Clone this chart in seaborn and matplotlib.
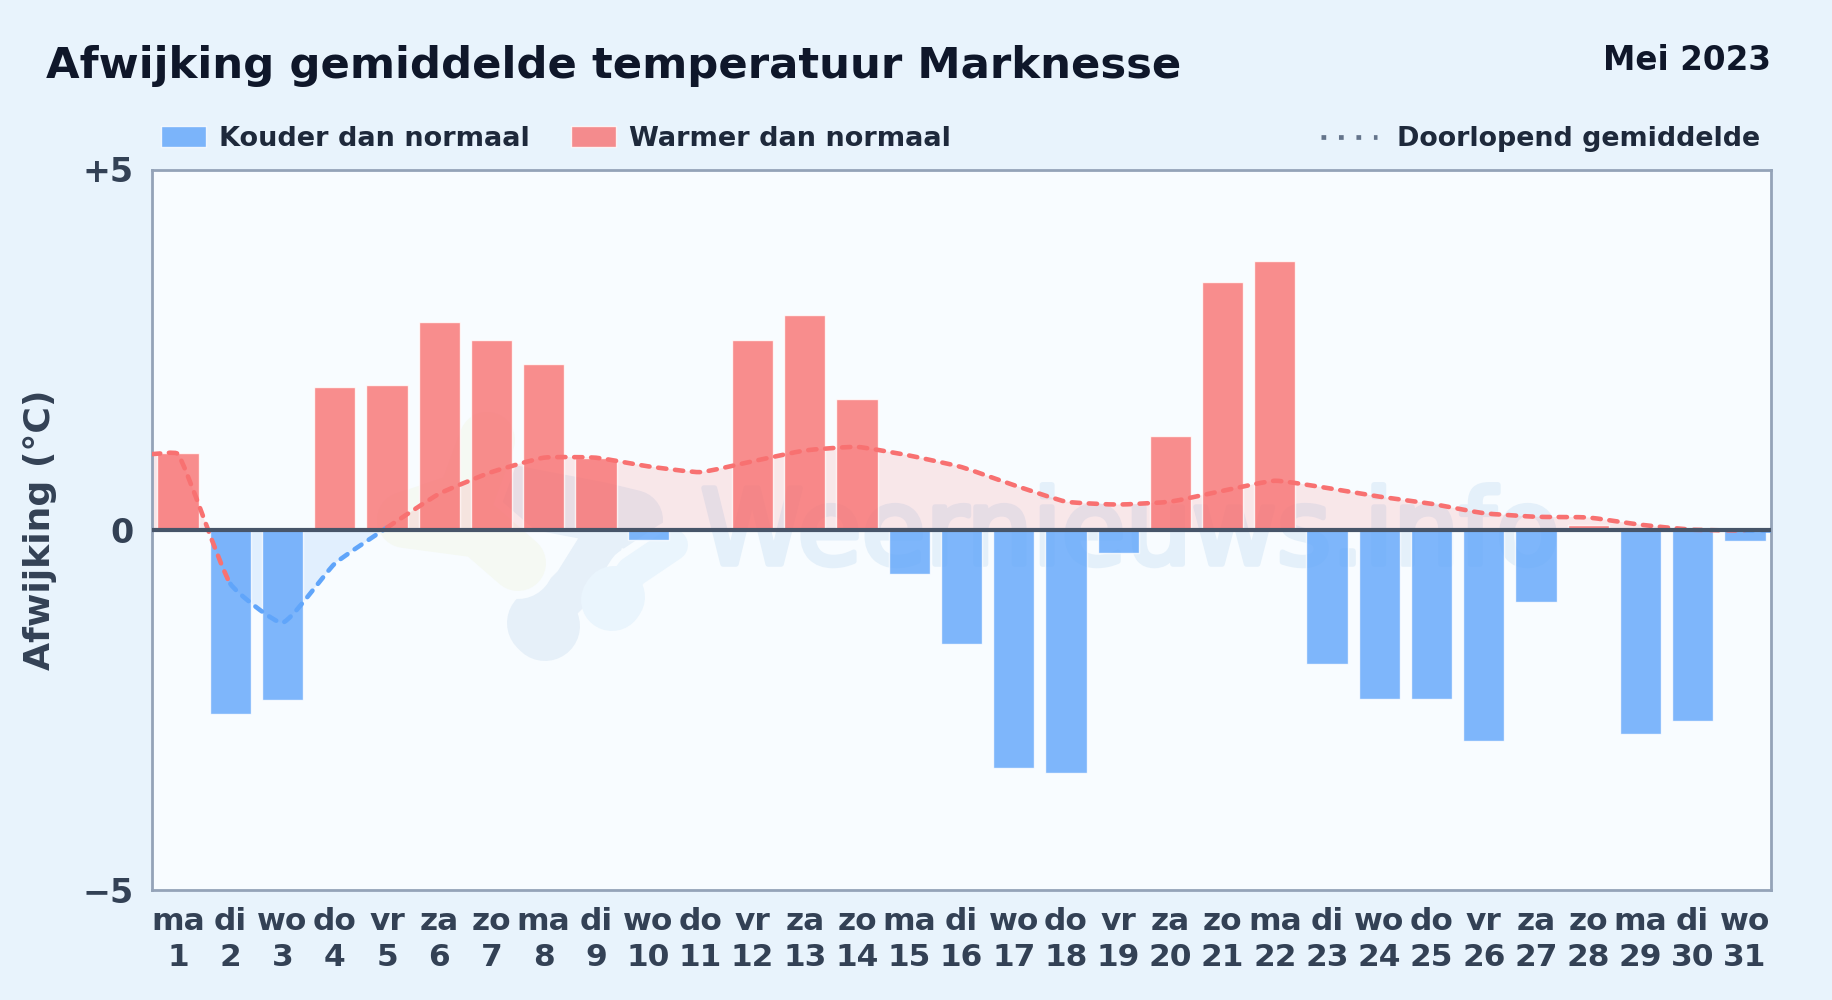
import numpy as np
import pandas as pd
import matplotlib
matplotlib.use("Agg")
import matplotlib.pyplot as plt
import matplotlib.patheffects as pe
import seaborn as sns
from matplotlib.lines import Line2D
from matplotlib.patches import PathPatch, Rectangle
from matplotlib.path import Path

# === data ===
weekdays = ["ma", "di", "wo", "do", "vr", "za", "zo"] * 4 + ["ma", "di", "wo"]
days = list(range(1, 32))
deviation = [1.06, -2.56, -2.36, 1.98, 2.01, 2.88, 2.63, 2.30, 1.00, -0.14, 0.00,
             2.63, 2.98, 1.82, -0.61, -1.58, -3.30, -3.37, -0.32, 1.30, 3.44,
             3.73, -1.86, -2.35, -2.35, -2.93, -1.00, 0.06, -2.83, -2.65, -0.16]
running_mean = [1.05, -0.75, -1.29, -0.47, 0.03, 0.50, 0.80, 1.00, 1.00, 0.88, 0.80,
                0.95, 1.10, 1.15, 1.03, 0.87, 0.62, 0.39, 0.35, 0.39, 0.54,
                0.68, 0.58, 0.46, 0.36, 0.23, 0.18, 0.17, 0.07, 0.00, -0.01]
y_ticks = [-5, 0, 5]
y_tick_labels = ["\u22125", "0", "+5"]

COLD = "Kouder dan normaal"
WARM = "Warmer dan normaal"
BLUE = "#60a5fa"
RED = "#f87171"
BG = "#e8f3fc"
PLOT_BG = "#f8fcff"
W, H = 1832, 1000


def px(x, y):
    return x / W, 1 - y / H


def spline_segments(xs, ys, tension=0.15, sx=52.2, sy=61.7 * 1.168):
    # bezier control points, same idea as a chart.js line with tension
    p = np.column_stack([xs, ys])
    scale = np.array([sx, sy])
    before, after = [], []
    for i in range(len(p)):
        p0 = p[max(i - 1, 0)]
        p1 = p[i]
        p2 = p[min(i + 1, len(p) - 1)]
        d01 = np.linalg.norm((p1 - p0) * scale)
        d12 = np.linalg.norm((p2 - p1) * scale)
        total = d01 + d12
        before.append(p1 - tension * d01 / total * (p2 - p0))
        after.append(p1 + tension * d12 / total * (p2 - p0))
    return p, before, after


def curve_path(p, before, after, start, stop, close_to=None):
    verts = [tuple(p[start])]
    codes = [Path.MOVETO]
    for i in range(start, stop):
        verts += [tuple(after[i]), tuple(before[i + 1]), tuple(p[i + 1])]
        codes += [Path.CURVE4] * 3
    if close_to is not None:
        verts += [(p[stop][0], close_to), (p[start][0], close_to), (p[start][0], close_to)]
        codes += [Path.LINETO, Path.LINETO, Path.CLOSEPOLY]
    return Path(verts, codes)


df = pd.DataFrame({
    "dag": [f"{w}\n{d}" for w, d in zip(weekdays, days)],
    "afwijking": deviation,
    "soort": [WARM if v >= 0 else COLD for v in deviation],
})

sns.set_theme(style="white")
plt.rcParams["font.family"] = ["DejaVu Sans"]
plt.rcParams["font.weight"] = "bold"

fig = plt.figure(figsize=(W / 100, H / 100), dpi=100, facecolor=BG)
ax = fig.add_axes([152 / W, 1 - 890 / H, (1771 - 152) / W, (890 - 169.5) / H])
ax.set_facecolor(PLOT_BG)

# watermark, logo blobs and site name (each blob is a thick round line, pale ring first)
GREY = "#e6f0f9"
PALE = "#eaf5fd"
GREEN = "#f5f9f3"
green_path = [(487, 440), (465, 500), (405, 520), (480, 530), (518, 563)]
blobs = [
    (GREY, [(485, 490), (600, 512), (633, 520)], 60),
    (GREY, [(600, 545), (575, 585), (550, 610)], 44),
    (GREY, [(542, 623), (545, 626)], 70),
    (PLOT_BG, [(612, 603), (632, 572), (672, 545)], 48),
    (PALE, [(612, 600), (614, 597)], 62),
    (PALE, [(612, 600), (632, 572), (672, 545)], 32),
    (PLOT_BG, green_path, 72),
    (GREEN, green_path, 56),
]
for colour, pts, width in blobs:
    xs, ys = zip(*pts)
    fx = [x / W for x in xs]
    fy = [1 - y / H for y in ys]
    ax.add_line(Line2D(fx, fy, transform=fig.transFigure, color=colour, lw=width * 0.72,
                       solid_capstyle="round", solid_joinstyle="round", zorder=0.5))
fig_x, fig_y = px(1130, 564)
site = ax.text(fig_x, fig_y, "Weernieuws.info", transform=fig.transFigure, ha="center",
               va="baseline", fontsize=75, color="#e4f0fa", zorder=0.6, fontweight="normal")
site.set_path_effects([pe.withStroke(linewidth=4, foreground="#e4f0fa")])

# bars
sns.barplot(data=df, x="dag", y="afwijking", hue="soort", hue_order=[COLD, WARM],
            palette={COLD: BLUE, WARM: RED}, dodge=False, width=0.79, alpha=0.8,
            saturation=1, ax=ax, zorder=2)

# running mean, runs out to both edges of the plot
line_x = [-0.5] + list(range(len(running_mean))) + [len(running_mean) - 0.5]
line_y = [running_mean[0]] + running_mean + [running_mean[-1]]
p, before, after = spline_segments(np.array(line_x, float), np.array(line_y, float))

x0, x1 = -0.5, 30.5
ax.set_xlim(x0, x1)
ax.set_ylim(-5, 5)

for colour, low, high in [(RED, 0, 5), (BLUE, -5, 0)]:
    fill = PathPatch(curve_path(p, before, after, 0, len(p) - 1, close_to=0), facecolor=colour,
                     edgecolor="none", alpha=0.15, zorder=1.5)
    ax.add_patch(fill)
    fill.set_clip_path(Rectangle((x0, low), x1 - x0, high - low, transform=ax.transData))

# colour of a stretch goes by the value it starts from
start = 0
for i in range(1, len(p)):
    same = (line_y[i] >= 0) == (line_y[start] >= 0)
    if not same or i == len(p) - 1:
        end = i if not same else len(p) - 1
        ax.add_patch(PathPatch(curve_path(p, before, after, start, end), facecolor="none",
                               edgecolor=RED if line_y[start] >= 0 else BLUE, lw=3.3,
                               linestyle=(0, (1.8, 1.9)), capstyle="round", zorder=3))
        start = i

ax.axhline(0, color="#475569", lw=3, zorder=4)

ax.set_yticks(y_ticks)
ax.set_yticklabels(y_tick_labels)
ax.tick_params(axis="y", length=0, pad=13.5, labelsize=24, labelcolor="#334155")
ax.tick_params(axis="x", length=0, pad=12, labelsize=22.5, labelcolor="#334155")
for label in ax.get_xticklabels():
    label.set_linespacing(1.3)
ax.set_xlabel("")
ax.set_ylabel("")
for spine in ax.spines.values():
    spine.set_color("#94a3b8")
    spine.set_linewidth(2)
    spine.set_visible(True)

fig.text(*px(40, 530), "Afwijking (\u00b0C)", rotation=90, ha="center", va="center",
         fontsize=26.1, color="#334155")
fig.text(*px(46, 66), "Afwijking gemiddelde temperatuur Marknesse", ha="left", va="center",
         fontsize=31.2, color="#0f172a")
fig.text(*px(1771, 61), "Mei 2023", ha="right", va="center", fontsize=23.5, color="#0f172a")

handles, labels = ax.get_legend_handles_labels()
left = ax.legend(handles, labels, loc="center left", bbox_to_anchor=px(147.5, 139),
                 bbox_transform=fig.transFigure, ncol=2, frameon=False, fontsize=19.55,
                 labelcolor="#1e293b", handlelength=1.65, handleheight=0.8, handletextpad=0.5,
                 columnspacing=1.5, borderpad=0)
ax.add_artist(left)
dots = Line2D([], [], color="#64748b", lw=3.4, linestyle=(0, (1.0, 2.7)))
ax.legend([dots], ["Doorlopend gemiddelde"], loc="center right", bbox_to_anchor=px(1774, 139),
          bbox_transform=fig.transFigure, frameon=False, fontsize=19.4, labelcolor="#1e293b",
          handlelength=2.1, handletextpad=0.75, borderpad=0)

fig.savefig("out.png", dpi=100, facecolor=BG)
